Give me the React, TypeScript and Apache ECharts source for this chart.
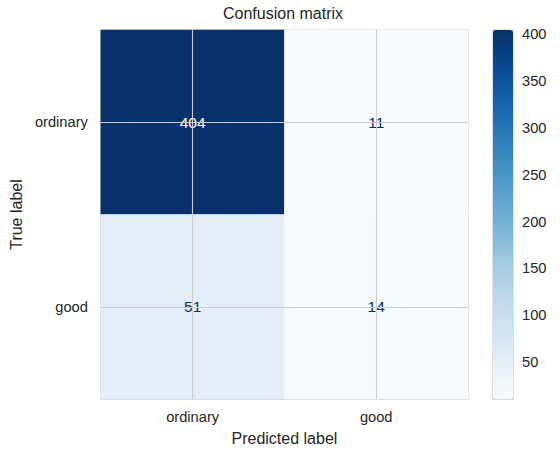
import React, { useEffect, useRef } from "react";
import * as echarts from "echarts";

const predictedLabels = ["ordinary", "good"];
const trueLabels = ["ordinary", "good"];
// counts[trueIndex][predIndex]
const counts = [
  [404, 11],
  [51, 14],
];
const colorbarTicks = [50, 100, 150, 200, 250, 300, 350, 400];
const blues = ["#f7fbff", "#deebf7", "#c6dbef", "#9ecae1", "#6baed6", "#4292c6", "#2171b5", "#08519c", "#08306b"];

const FONT = "'Liberation Sans', Arial, Helvetica, sans-serif";
const TXT = "#262626";

export default function App() {
  const ref = useRef<HTMLDivElement>(null);
  useEffect(() => {
    if (!ref.current) return;
    const chart = echarts.init(ref.current, undefined, { renderer: "svg" });
    const flat = counts.flat();
    const vmin = Math.min(...flat);
    const vmax = Math.max(...flat);
    const data: any[] = [];
    counts.forEach((row, ti) => {
      row.forEach((v, pi) => {
        data.push({
          value: [pi, ti, v],
          label: { color: v > (vmin + vmax) / 2 ? "#ffffff" : "#08306b" },
        });
      });
    });
    chart.setOption({
      animation: false,
      backgroundColor: "#ffffff",
      textStyle: { fontFamily: FONT },
      title: {
        text: "Confusion matrix",
        left: 283,
        top: 5,
        padding: 0,
        textAlign: "center",
        textStyle: { fontFamily: FONT, fontSize: 16, fontWeight: "normal", color: TXT },
      },
      grid: [
        { left: 98, top: 30, width: 370, height: 369, show: true, borderColor: "#cccccc", borderWidth: 1.25, backgroundColor: "transparent", containLabel: false },
        { left: 493, top: 30, width: 20, height: 369, show: true, borderColor: "#cccccc", borderWidth: 1.25, backgroundColor: "transparent", containLabel: false },
      ],
      xAxis: [
        {
          type: "category",
          gridIndex: 0,
          data: predictedLabels,
          name: "Predicted label",
          nameLocation: "middle",
          nameGap: 31,
          nameTextStyle: { fontFamily: FONT, fontSize: 16, color: TXT },
          axisLine: { show: false },
          axisTick: { show: false },
          axisLabel: { margin: 10, fontFamily: FONT, fontSize: 14.67, color: TXT },
          splitLine: { show: false },
        },
        { type: "value", gridIndex: 1, show: false, min: 0, max: 1 },
      ],
      yAxis: [
        {
          type: "category",
          gridIndex: 0,
          data: trueLabels,
          inverse: true,
          name: "True label",
          nameLocation: "middle",
          nameGap: 72,
          nameTextStyle: { fontFamily: FONT, fontSize: 16, color: TXT },
          axisLine: { show: false },
          axisTick: { show: false },
          axisLabel: { margin: 13, fontFamily: FONT, fontSize: 14.67, color: TXT },
          splitLine: { show: false },
        },
        {
          type: "value",
          gridIndex: 1,
          position: "right",
          min: vmin,
          max: vmax,
          axisLine: { show: false },
          axisTick: { show: true, length: 6, lineStyle: { color: TXT, width: 1.2 }, customValues: colorbarTicks },
          axisLabel: { margin: 9, fontFamily: FONT, fontSize: 14.67, color: TXT, customValues: colorbarTicks },
          splitLine: { show: false },
        },
      ],
      visualMap: {
        type: "continuous",
        min: vmin,
        max: vmax,
        seriesIndex: 0,
        dimension: 2,
        left: 493,
        top: 30,
        itemWidth: 20,
        itemHeight: 369,
        padding: 0,
        text: ["", ""],
        showLabel: false,
        calculable: false,
        hoverLink: false,
        inRange: { color: blues },
      },
      series: [
        {
          type: "heatmap",
          xAxisIndex: 0,
          yAxisIndex: 0,
          data,
          label: { show: true, fontFamily: FONT, fontSize: 15.5, formatter: (p: any) => String(p.value[2]) },
          itemStyle: { borderWidth: 0 },
          emphasis: { disabled: true },
          markLine: {
            silent: true,
            symbol: "none",
            label: { show: false },
            lineStyle: { color: "#cccccc", width: 1.1, type: "solid" },
            data: [
              ...predictedLabels.map((c) => ({ xAxis: c })),
              ...trueLabels.map((c) => ({ yAxis: c })),
            ],
          },
        },
      ],
    });
    return () => chart.dispose();
  }, []);
  return <div ref={ref} style={{ position: "fixed", left: 0, top: 0, width: 560, height: 457 }} />;
}
